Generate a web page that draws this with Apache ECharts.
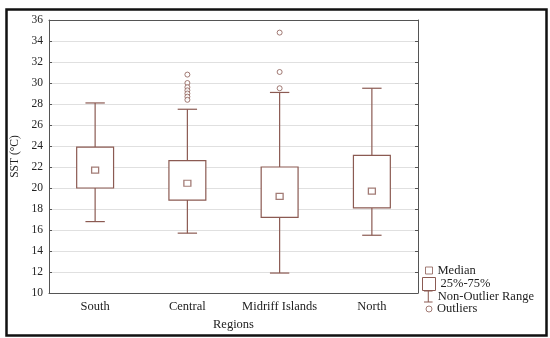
<!DOCTYPE html>
<html><head><meta charset="utf-8">
<script src="https://cdn.jsdelivr.net/npm/echarts@6/dist/echarts.min.js"></script>
<style>html,body{margin:0;padding:0;background:#fff}#c{width:550px;height:338px}</style>
</head><body><div id="c"></div>
<script>
var categories = ['South', 'Central', 'Midriff Islands', 'North'];
var whiskerMin = [16.8, 15.7, 11.9, 15.5];
var q1 = [20.0, 18.85, 17.2, 18.1];
var median = [21.7, 20.45, 19.2, 19.7];
var q3 = [23.9, 22.6, 22.0, 23.1];
var whiskerMax = [28.1, 27.5, 29.1, 29.5];
var outliers = [
  [1, 30.8], [1, 30.0], [1, 29.6], [1, 29.3], [1, 29.0], [1, 28.7], [1, 28.4],
  [2, 34.8], [2, 31.05], [2, 29.5]
];
var yTicks = {min: 10, max: 36, interval: 2};

var COL = '#8b5a52';
var FONT = 'Liberation Serif';

var chart = echarts.init(document.getElementById('c'));

var whiskerData = categories.map(function (c, i) { return [i, whiskerMin[i], whiskerMax[i]]; });
var boxData = categories.map(function (c, i) { return [i, q1[i], q3[i]]; });
var medData = categories.map(function (c, i) { return [i, median[i]]; });

function legendBase(left, top, w, h) {
  return {
    left: left, top: top, orient: 'vertical', itemWidth: w, itemHeight: h,
    itemGap: 2, padding: 0, selectedMode: false,
    textStyle: {fontFamily: FONT, fontSize: 12.5, color: '#222'}
  };
}

var option = {
  animation: false,
  backgroundColor: '#fff',
  grid: {left: 49, top: 20, right: 132, bottom: 45, containLabel: false},
  xAxis: [{
    type: 'category', data: categories, position: 'bottom',
    axisLine: {lineStyle: {color: '#555', width: 1}},
    axisTick: {inside: true, alignWithLabel: true, length: 3, lineStyle: {color: '#555'}},
    axisLabel: {fontFamily: FONT, fontSize: 12.5, color: '#222', margin: 7, interval: 0},
    name: 'Regions', nameLocation: 'middle', nameGap: 24,
    nameTextStyle: {fontFamily: FONT, fontSize: 12.5, color: '#222'}
  }, {
    type: 'category', data: categories, position: 'top',
    axisLine: {lineStyle: {color: '#555', width: 1}},
    axisTick: {inside: true, alignWithLabel: true, length: 3, lineStyle: {color: '#555'}},
    axisLabel: {show: false}
  }],
  yAxis: [{
    type: 'value', min: yTicks.min, max: yTicks.max, interval: yTicks.interval,
    axisLine: {show: true, lineStyle: {color: '#555', width: 1}},
    axisTick: {show: true, inside: true, length: 3, lineStyle: {color: '#555'}},
    axisLabel: {fontFamily: FONT, fontSize: 11.5, color: '#222', margin: 6},
    splitLine: {show: true, lineStyle: {color: '#e0e0e0', width: 1}},
    name: 'SST (°C)', nameLocation: 'middle', nameGap: 26,
    nameTextStyle: {fontFamily: FONT, fontSize: 11.5, color: '#222'}
  }, {
    type: 'value', min: yTicks.min, max: yTicks.max, interval: yTicks.interval, position: 'right',
    axisLine: {show: true, lineStyle: {color: '#555', width: 1}},
    axisTick: {show: true, inside: true, length: 3, lineStyle: {color: '#555'}},
    axisLabel: {show: false}, splitLine: {show: false}
  }],
  legend: [
    Object.assign(legendBase(425, 264, 7, 7), {data: [{name: 'Median', icon: 'rect',
      itemStyle: {color: '#fff', borderColor: COL, borderWidth: 1}}]}),
    Object.assign(legendBase(422, 277, 13, 13), {data: [{name: '25%-75%', icon: 'rect',
      itemStyle: {color: '#fff', borderColor: COL, borderWidth: 1}}]}),
    Object.assign(legendBase(424, 290, 9, 12), {data: [{name: 'Non-Outlier Range',
      icon: 'path://M0,0H10V1.3H0Z M4.4,0H5.6V14H4.4Z M0,12.7H10V14H0Z',
      itemStyle: {color: COL, borderWidth: 0}}]}),
    Object.assign(legendBase(425.5, 302.5, 6, 6), {data: [{name: 'Outliers', icon: 'circle',
      itemStyle: {color: '#fff', borderColor: COL, borderWidth: 1}}]})
  ],
  series: [{
    name: 'Non-Outlier Range', type: 'custom', data: whiskerData, z: 2,
    itemStyle: {color: COL},
    renderItem: function (params, api) {
      var x = api.value(0);
      var top = api.coord([x, api.value(2)]);
      var bot = api.coord([x, api.value(1)]);
      var half = api.size([1, 0])[0] * 0.105;
      var st = {stroke: COL, lineWidth: 1.2, fill: null};
      return {type: 'group', children: [
        {type: 'line', shape: {x1: top[0], y1: top[1], x2: bot[0], y2: bot[1]}, style: st},
        {type: 'line', shape: {x1: top[0] - half, y1: top[1], x2: top[0] + half, y2: top[1]}, style: st},
        {type: 'line', shape: {x1: bot[0] - half, y1: bot[1], x2: bot[0] + half, y2: bot[1]}, style: st}
      ]};
    }
  }, {
    name: '25%-75%', type: 'custom', data: boxData, z: 3,
    itemStyle: {color: '#fff', borderColor: COL, borderWidth: 1.2},
    renderItem: function (params, api) {
      var x = api.value(0);
      var a = api.coord([x, api.value(2)]);
      var b = api.coord([x, api.value(1)]);
      var w = api.size([1, 0])[0] * 0.4;
      return {type: 'rect', shape: {x: a[0] - w / 2, y: a[1], width: w, height: b[1] - a[1]},
        style: {fill: '#fff', stroke: COL, lineWidth: 1.2}};
    }
  }, {
    name: 'Median', type: 'scatter', data: medData, z: 4,
    symbol: 'rect', symbolSize: [7, 6],
    itemStyle: {color: '#fff', borderColor: COL, borderWidth: 1.2}
  }, {
    name: 'Outliers', type: 'scatter', data: outliers, z: 4,
    symbol: 'circle', symbolSize: 5,
    itemStyle: {color: '#fff', borderColor: COL, borderWidth: 1}
  }],
  graphic: [{
    type: 'rect', left: 4, top: 7, z: -1, silent: true,
    shape: {width: 540, height: 326},
    style: {fill: null, stroke: '#111', lineWidth: 2.5}
  }]
};
chart.setOption(option);
</script>
</body></html>
